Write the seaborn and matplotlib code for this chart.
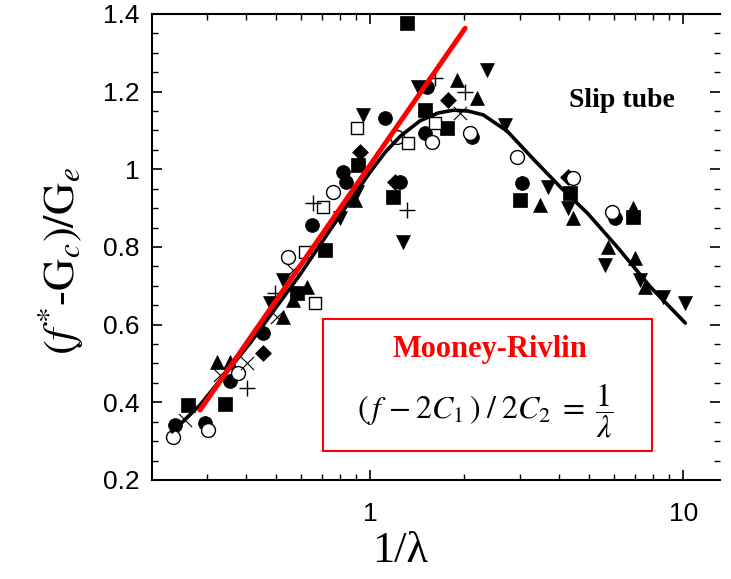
import numpy as np
import pandas as pd
import matplotlib
matplotlib.use("Agg")
import matplotlib.pyplot as plt
from matplotlib.ticker import LogLocator, FixedLocator, NullFormatter, MultipleLocator
import seaborn as sns

# ---------------- data ----------------
circ_fill_x = [0.238, 0.297, 0.357, 0.455, 0.653, 0.820, 0.838, 1.117, 1.247, 1.499, 1.521, 2.118, 3.06, 6.064]
circ_fill_y = [0.342, 0.347, 0.455, 0.578, 0.856, 0.993, 0.967, 1.132, 0.967, 1.093, 1.212, 1.083, 0.964, 0.874]

circ_open_x = [0.235, 0.304, 0.379, 0.547, 0.762, 1.22, 1.578, 2.086, 2.95, 4.455, 5.929]
circ_open_y = [0.311, 0.329, 0.475, 0.774, 0.941, 1.083, 1.070, 1.093, 1.031, 0.977, 0.890]

sq_fill_x = [0.262, 0.344, 0.585, 0.718, 0.916, 1.184, 1.313, 1.499, 1.763, 3.016, 4.355, 6.925]
sq_fill_y = [0.393, 0.396, 0.681, 0.792, 1.011, 0.928, 1.376, 1.152, 1.106, 0.921, 0.939, 0.877]

sq_open_x = [0.62, 0.667, 0.708, 0.909, 1.322, 1.614]
sq_open_y = [0.787, 0.656, 0.903, 1.106, 1.067, 1.119]

dia_x = [0.455, 0.929, 1.202, 1.775, 4.293]
dia_y = [0.527, 1.044, 0.967, 1.178, 0.980]

tri_up_x = [0.324, 0.357, 0.527, 0.568, 0.629, 0.896, 1.896, 2.197, 3.492, 4.455, 6.925, 5.757, 7.025, 7.565]
tri_up_y = [0.504, 0.504, 0.620, 0.663, 0.697, 0.921, 1.230, 1.183, 0.908, 0.874, 0.900, 0.800, 0.771, 0.697]

tri_dn_x = [0.480, 0.527, 0.802, 0.909, 0.950, 1.274, 1.423, 2.365, 2.70, 3.704, 4.293, 5.64, 7.291, 8.636, 10.15]
tri_dn_y = [0.656, 0.715, 0.874, 0.941, 1.140, 0.813, 1.212, 1.255, 1.114, 0.954, 0.900, 0.753, 0.715, 0.671, 0.656]

plus_x = [0.405, 0.497, 0.658, 1.313, 1.614, 2.012]
plus_y = [0.437, 0.681, 0.913, 0.895, 1.235, 1.199]

cross_x = [0.256, 0.332, 0.405, 0.504, 0.568, 1.94]
cross_y = [0.354, 0.470, 0.501, 0.620, 0.741, 1.145]

# slip-tube model curve
slip_x = [0.233, 0.286, 0.414, 0.598, 0.802, 1.0, 1.117, 1.247, 1.444, 1.65, 1.842, 2.05, 2.296, 2.74, 3.32, 4.05, 4.94, 6.15, 7.85, 10.15]
slip_y = [0.324, 0.393, 0.553, 0.730, 0.882, 0.993, 1.044, 1.085, 1.125, 1.145, 1.152, 1.150, 1.140, 1.098, 1.026, 0.954, 0.887, 0.800, 0.697, 0.604]

# Mooney-Rivlin line
mr_x = [0.286, 2.01]
mr_y = [0.38, 1.363]

x_ticks = [1, 10]
x_ticklabels = ["1", "10"]
y_ticks = [0.2, 0.4, 0.6, 0.8, 1.0, 1.2, 1.4]
y_ticklabels = ["0.2", "0.4", "0.6", "0.8", "1", "1.2", "1.4"]

# ---------------- figure ----------------
sns.set_theme(style="ticks")
plt.rcParams["font.family"] = ["Liberation Sans", "DejaVu Sans"]
plt.rcParams["mathtext.fontset"] = "stix"
for k in ["text.color", "axes.labelcolor", "xtick.color", "ytick.color"]:
    plt.rcParams[k] = "black"

fig = plt.figure(figsize=(7.31, 5.79), dpi=100)
ax = fig.add_axes([0.208, 0.171, 0.777, 0.805])
ax.set_xscale("log")

ms = 100
kw_f = dict(color="black", edgecolor="black", linewidth=0.5, s=ms, ax=ax, zorder=3, legend=False)
sns.scatterplot(x=circ_fill_x, y=circ_fill_y, marker="o", **kw_f)
sns.scatterplot(x=sq_fill_x, y=sq_fill_y, marker="s", **kw_f)
sns.scatterplot(x=dia_x, y=dia_y, marker="D", s=65, color="black", edgecolor="black",
                linewidth=0.5, ax=ax, zorder=3, legend=False)
sns.scatterplot(x=tri_up_x, y=tri_up_y, marker="^", **kw_f)
sns.scatterplot(x=tri_dn_x, y=tri_dn_y, marker="v", **kw_f)
sns.scatterplot(x=circ_open_x, y=circ_open_y, marker="o", s=ms, facecolor="white",
                edgecolor="black", linewidth=1.0, ax=ax, zorder=4, legend=False)
sns.scatterplot(x=sq_open_x, y=sq_open_y, marker="s", s=70, facecolor="white",
                edgecolor="black", linewidth=1.0, ax=ax, zorder=4, legend=False)
sns.scatterplot(x=plus_x, y=plus_y, marker="+", s=120, color="black", linewidth=1.0,
                ax=ax, zorder=4, legend=False)
sns.scatterplot(x=cross_x, y=cross_y, marker="x", s=90, color="black", linewidth=0.8,
                ax=ax, zorder=4, legend=False)

sns.lineplot(x=slip_x, y=slip_y, sort=False, color="black", linewidth=2.6, ax=ax, zorder=5)
sns.lineplot(x=mr_x, y=mr_y, sort=False, color="red", linewidth=3.6, ax=ax, zorder=6)

ax.set_xlim(0.201, 13.1)
ax.set_ylim(0.2, 1.4)

ax.xaxis.set_major_locator(FixedLocator(x_ticks))
ax.set_xticklabels(x_ticklabels)
ax.xaxis.set_minor_locator(LogLocator(base=10, subs=np.arange(2, 10), numticks=20))
ax.xaxis.set_minor_formatter(NullFormatter())
ax.set_yticks(y_ticks)
ax.set_yticklabels(y_ticklabels)
ax.yaxis.set_minor_locator(MultipleLocator(0.05))

ax.tick_params(axis="both", which="major", direction="in", length=7, width=1.2,
               labelsize=19, top=True, right=True, colors="black")
ax.tick_params(axis="y", which="major", pad=9)
ax.tick_params(axis="x", which="major", pad=16)
ax.tick_params(axis="both", which="minor", direction="in", length=4, width=1.0,
               top=True, right=True, colors="black")
for side in ["left", "bottom", "top"]:
    ax.spines[side].set_linewidth(1.5)
    ax.spines[side].set_color("black")
ax.spines["right"].set_visible(False)

ax.set_xlabel("1/λ", fontsize=32, family="Liberation Serif", color="black")
ax.xaxis.set_label_coords(0.437, -0.110)
ax.set_ylabel(r"$(f^{*}$-$\mathrm{G}_c)/\mathrm{G}_e$", fontsize=32, family="Liberation Serif",
              color="black")
ax.yaxis.set_label_coords(-0.118, 0.47)

ax.text(0.827, 0.815, "Slip tube", transform=ax.transAxes, fontsize=20, color="black",
        fontweight="bold", family="Liberation Serif", ha="center", va="center", zorder=7)

# Mooney-Rivlin box (axes coordinates)
box = plt.Rectangle((0.301, 0.062), 0.579, 0.283, transform=ax.transAxes,
                    fill=True, facecolor="white", edgecolor="red", linewidth=1.5, zorder=7)
ax.add_patch(box)
ax.text(0.595, 0.279, "Mooney-Rivlin", transform=ax.transAxes, fontsize=22, color="red",
        fontweight="bold", family="Liberation Serif", ha="center", va="center", zorder=8)
ax.text(0.586, 0.150, r"$(\,f\,-2C_1\,)\;/\;2C_2\;=\;\dfrac{1}{\lambda}$", transform=ax.transAxes,
        fontsize=23, color="black", ha="center", va="center", zorder=8)

fig.savefig("out.png", dpi=100)
